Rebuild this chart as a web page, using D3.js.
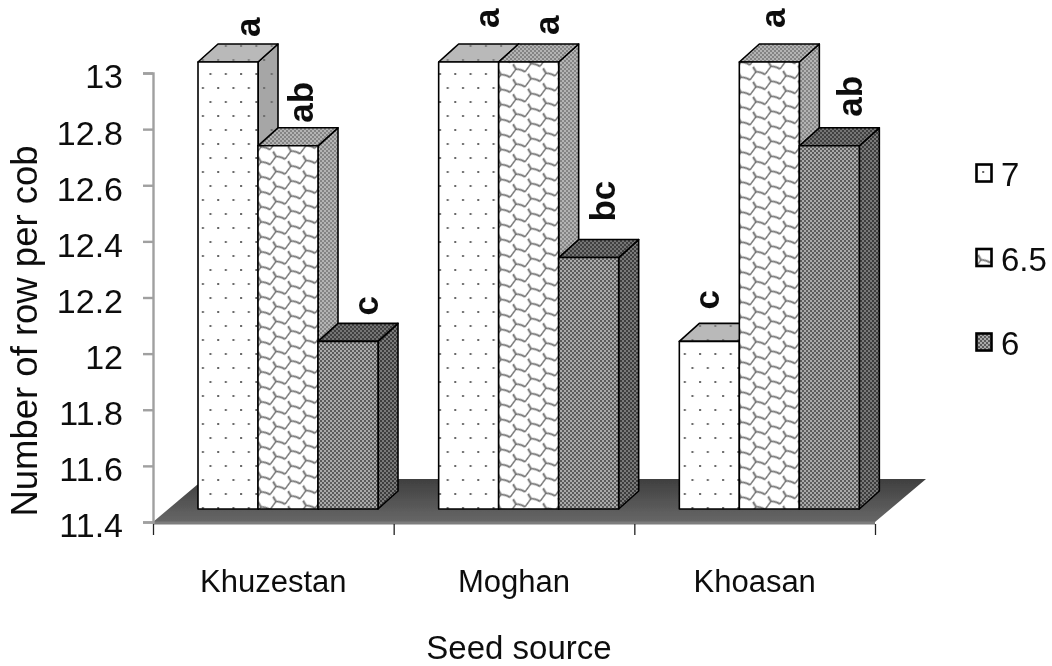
<!DOCTYPE html>
<html>
<head>
<meta charset="utf-8">
<script src="https://cdn.jsdelivr.net/npm/d3@7"></script>
<style>
  html, body { margin: 0; padding: 0; background: #fff; }
  text { font-family: "Liberation Sans", Arial, sans-serif; fill: #111; }
</style>
</head>
<body>
<div id="chart"></div>
<script>
// data
const categories = ["Khuzestan", "Moghan", "Khoasan"];
const seriesNames = ["7", "6.5", "6"];
const values7 = [13, 13, 12];
const values65 = [12.7, 13, 13];
const values6 = [12, 12.3, 12.7];
const letters7 = ["a", "a", "c"];
const letters65 = ["ab", "a", "a"];
const letters6 = ["c", "bc", "ab"];
const yTicks = [11.4, 11.6, 11.8, 12, 12.2, 12.4, 12.6, 12.8, 13];

const allValues = [values7, values65, values6];
const allLetters = [letters7, letters65, letters6];

const width = 1052, height = 666;
const depthX = 20, depthY = -18;   // 3d offset of each bar

// hand placement of the letters: distance from bar left, gap above the bar top
const letterDx = [[62, 60, 40], [55, 60, 46], [60, 56, 63]];
const letterGap = [[7, 16, 14], [5, 9, 16], [8, 18, 11]];

const svg = d3.select("#chart").append("svg")
    .attr("width", width)
    .attr("height", height)
    .style("display", "block");

const defs = svg.append("defs");

// slight blur, the source is a soft scan
defs.append("filter").attr("id", "soft")
    .append("feGaussianBlur").attr("stdDeviation", 0.45);

// fill patterns
function dotPattern(id, bg, dot) {
    const p = defs.append("pattern").attr("id", id)
        .attr("patternUnits", "userSpaceOnUse")
        .attr("width", 15.3).attr("height", 28);
    p.append("rect").attr("width", 15.3).attr("height", 28).attr("fill", bg);
    p.append("rect").attr("x", 3).attr("y", 3).attr("width", 2).attr("height", 2).attr("fill", dot);
    p.append("rect").attr("x", 10.6).attr("y", 17).attr("width", 2).attr("height", 2).attr("fill", dot);
}
function shinglePattern(id, bg, line) {
    const p = defs.append("pattern").attr("id", id)
        .attr("patternUnits", "userSpaceOnUse")
        .attr("patternTransform", "skewY(-20)")
        .attr("width", 15).attr("height", 15);
    p.append("rect").attr("width", 15).attr("height", 15).attr("fill", bg);
    p.append("path")
        .attr("d", "M0 8 L6 2 Q10 3 15 8 M6 2 L3 -4 M6 17 L3 11")
        .attr("fill", "none").attr("stroke", line).attr("stroke-width", 1.7);
}
function densePattern(id, bg, dark) {
    const p = defs.append("pattern").attr("id", id)
        .attr("patternUnits", "userSpaceOnUse")
        .attr("width", 4).attr("height", 4);
    p.append("rect").attr("width", 4).attr("height", 4).attr("fill", bg);
    p.append("rect").attr("x", 0).attr("y", 0).attr("width", 2).attr("height", 2).attr("fill", dark);
    p.append("rect").attr("x", 2).attr("y", 2).attr("width", 2).attr("height", 2).attr("fill", dark);
}
dotPattern("front0", "#fff", "#666");
dotPattern("side0", "#a6a6a6", "#6c6c6c");
dotPattern("top0", "#b9b9b9", "#7c7c7c");
shinglePattern("front1", "#fff", "#707070");
densePattern("side1", "#b4b4b4", "#848484");
densePattern("top1", "#b4b4b4", "#848484");
densePattern("front2", "#aaaaaa", "#5c5c5c");
densePattern("side2", "#7a7a7a", "#3c3c3c");
densePattern("top2", "#747474", "#3f3f3f");

const floorGrad = defs.append("linearGradient").attr("id", "floor")
    .attr("x1", 0).attr("y1", 0).attr("x2", 0).attr("y2", 1);
floorGrad.append("stop").attr("offset", "0%").attr("stop-color", "#3f3f3f");
floorGrad.append("stop").attr("offset", "100%").attr("stop-color", "#676767");

// scales
const y = d3.scaleLinear().domain([11.4, 13]).range([522, 73]);
const yBar = d3.scaleLinear().domain([11.4, 13]).range([509, 62]);
const x0 = d3.scaleBand().domain(categories).range([153, 875]);
const x1 = d3.scaleBand().domain(seriesNames).range([45, 225]);

const chart = svg.append("g").attr("filter", "url(#soft)");

// floor
const floorDx = 51, floorDy = -43;
chart.append("path")
    .attr("d", d3.line()([
        [x0.range()[0], y(11.4)], [x0.range()[1], y(11.4)],
        [x0.range()[1] + floorDx, y(11.4) + floorDy], [x0.range()[0] + floorDx, y(11.4) + floorDy]
    ]) + "Z")
    .attr("fill", "url(#floor)");
chart.append("line")
    .attr("x1", x0.range()[0]).attr("x2", x0.range()[1])
    .attr("y1", y(11.4) + 1).attr("y2", y(11.4) + 1)
    .attr("stroke", "#7d7d7d").attr("stroke-width", 3);

// y axis
const yAxis = chart.append("g")
    .attr("transform", "translate(153,0)")
    .call(d3.axisLeft(y).tickValues(yTicks).tickSize(10).tickPadding(20).tickFormat(d3.format("~g")));
yAxis.selectAll("path, line").attr("stroke", "#a0a0a0").attr("stroke-width", 2.4);
yAxis.selectAll("text").attr("dy", "0.44em").style("font-size", "34px");

// x axis: ticks sit between the categories, labels in the middle
const xEdges = d3.scaleLinear().domain([0, categories.length]).range(x0.range());
const xTickAxis = chart.append("g")
    .attr("transform", "translate(0,524)")
    .call(d3.axisBottom(xEdges).tickValues(d3.range(categories.length + 1)).tickSize(11).tickFormat(""));
xTickAxis.select("path").remove();
xTickAxis.selectAll("line").attr("stroke", "#222").attr("stroke-width", 1.3);

const xLabelAxis = chart.append("g")
    .attr("transform", "translate(0,567)")
    .call(d3.axisBottom(x0).tickSize(0).tickPadding(3));
xLabelAxis.select("path").remove();
xLabelAxis.selectAll("text").style("font-size", "31px");

// bars, group by group and left to right so later bars cover earlier sides
categories.forEach((cat, c) => {
    seriesNames.forEach((name, s) => {
        const left = x0(cat) + x1(name);
        const right = left + x1.bandwidth();
        const top = yBar(allValues[s][c]);
        const base = yBar(11.4);
        const g = chart.append("g").attr("stroke", "#000").attr("stroke-width", 1.6).attr("stroke-linejoin", "round");
        g.append("path")
            .attr("d", d3.line()([[right, top], [right + depthX, top + depthY], [right + depthX, base + depthY], [right, base]]) + "Z")
            .attr("fill", `url(#side${s})`);
        g.append("path")
            .attr("d", d3.line()([[left, top], [left + depthX, top + depthY], [right + depthX, top + depthY], [right, top]]) + "Z")
            .attr("fill", `url(#top${s})`);
        g.append("rect")
            .attr("x", left).attr("y", top)
            .attr("width", x1.bandwidth()).attr("height", base - top)
            .attr("fill", `url(#front${s})`);
    });
});

// significance letters, turned on their side above each bar
categories.forEach((cat, c) => {
    seriesNames.forEach((name, s) => {
        const lx = x0(cat) + x1(name) + letterDx[s][c];
        const ly = yBar(allValues[s][c]) + depthY - letterGap[s][c];
        chart.append("text")
            .attr("transform", `translate(${lx},${ly}) rotate(-90)`)
            .attr("text-anchor", "start")
            .style("font-size", "35px")
            .style("font-weight", "bold")
            .text(allLetters[s][c]);
    });
});

// axis titles
chart.append("text")
    .attr("transform", "translate(37,331) rotate(-90)")
    .attr("text-anchor", "middle")
    .style("font-size", "36.5px")
    .text("Number of row per cob");
chart.append("text")
    .attr("x", 519).attr("y", 658.5)
    .attr("text-anchor", "middle")
    .style("font-size", "33px")
    .text("Seed source");

// legend
const legendY = d3.scalePoint().domain(seriesNames).range([173, 342]);
const legendFront = ["front0", "front1", "front2"];
seriesNames.forEach((name, s) => {
    chart.append("rect")
        .attr("x", 976.5).attr("y", legendY(name) - 8.5)
        .attr("width", 15).attr("height", 17)
        .attr("fill", `url(#${legendFront[s]})`)
        .attr("stroke", "#000").attr("stroke-width", 2.6);
    chart.append("text")
        .attr("x", 1001).attr("y", legendY(name) + 13)
        .style("font-size", "33px")
        .text(name);
});
</script>
</body>
</html>
